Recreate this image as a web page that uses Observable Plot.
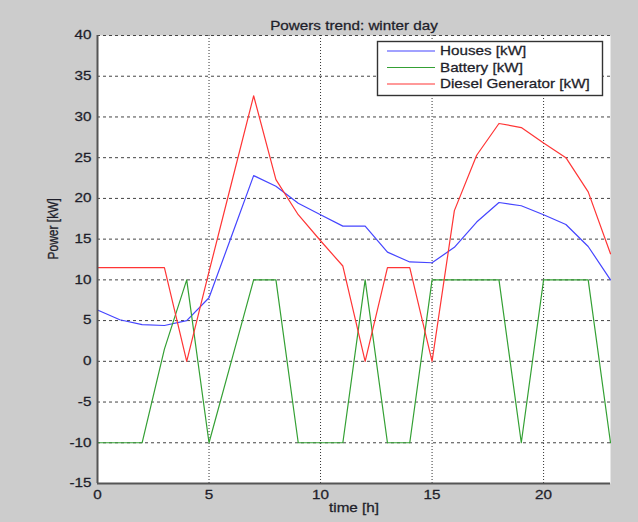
<!DOCTYPE html>
<html><head><meta charset="utf-8">
<script src="https://cdn.jsdelivr.net/npm/d3@7"></script>
<script src="https://cdn.jsdelivr.net/npm/@observablehq/plot@0.6"></script>
<style>
html,body{margin:0;padding:0;background:#cccccc;}
#chart{position:relative;width:638px;height:522px;}
</style></head><body><div id="chart"></div>
<script>
const hours = [0,1,2,3,4,5,6,7,8,9,10,11,12,13,14,15,16,17,18,19,20,21,22,23];
const houses = [6.3,5.1,4.5,4.4,5.0,7.8,15.3,22.8,21.5,19.4,18.0,16.6,16.6,13.4,12.2,12.1,14.0,17.1,19.5,19.1,18.0,16.8,14.1,10.0];
const battery = [-10,-10,-10,1.5,10,-10,0,10,10,-10,-10,-10,10,-10,-10,10,10,10,10,-10,10,10,10,-10];
const diesel = [11.5,11.5,11.5,11.5,0,11.0,21.8,32.6,22.3,18.0,14.8,11.7,0,11.5,11.5,0,18.5,25.3,29.2,28.7,26.8,25.0,20.8,13.2];
const seriesNames = ["Houses [kW]","Battery [kW]","Diesel Generator [kW]"];
const seriesColors = ["#4545ff","#34a034","#ff3535"];
const xTicks = [0,5,10,15,20];
const yTicks = [-15,-10,-5,0,5,10,15,20,25,30,35,40];
const title = "Powers trend: winter day";
const xLabel = "time [h]";
const yLabel = "Power [kW]";

const rows = [];
[houses, battery, diesel].forEach((vals, s) =>
  hours.forEach((h, i) => rows.push({series: seriesNames[s], time: h, power: vals[i]})));

const chart = Plot.plot({
  width: 638, height: 522,
  marginLeft: 97, marginRight: 28, marginTop: 35, marginBottom: 39,
  style: {background: "#cccccc", fontFamily: "'Liberation Sans', Arial, sans-serif", fontSize: "12px", color: "#1e1e2a", overflow: "visible"},
  x: {domain: [0, 23]},
  y: {domain: [-15, 40]},
  color: {domain: seriesNames, range: seriesColors},
  marks: [
    Plot.frame({fill: "white", stroke: null}),
    Plot.ruleY(yTicks.filter(v => v > -15), {stroke: "#444", strokeWidth: 1, strokeDasharray: "3,3"}),
    Plot.ruleX(xTicks.filter(v => v > 0), {stroke: "#333", strokeWidth: 1, strokeDasharray: "1,2"}),
    Plot.line(rows, {x: "time", y: "power", z: "series", stroke: "series", strokeWidth: 1.2}),
    Plot.ruleX([0], {stroke: "#555", strokeWidth: 2}),
    Plot.ruleY([-15], {stroke: "#555", strokeWidth: 2}),
    Plot.axisX({ticks: xTicks, tickSize: 0, tickPadding: 7, label: null, tickFormat: d => String(d)}),
    Plot.axisY({ticks: yTicks, tickSize: 0, tickPadding: 6, label: null, tickFormat: d => String(d)}),
    Plot.text([title], {text: d => d, frameAnchor: "top", dy: -14}),
    Plot.text([xLabel], {text: d => d, frameAnchor: "bottom", dy: 28}),
    Plot.text([yLabel], {text: d => d, frameAnchor: "left", dx: -44, rotate: -90})
  ]
});

// legend
const svg = d3.select(chart);
const lg = svg.append("g").attr("font-family", "'Liberation Sans', Arial, sans-serif").attr("font-size", 12).attr("fill", "#1e1e2a");
lg.append("rect").attr("x", 377.5).attr("y", 41.5).attr("width", 225).attr("height", 54)
  .attr("fill", "white").attr("stroke", "#333").attr("stroke-width", 1.4);
seriesNames.forEach((n, i) => {
  const y = 51 + i * 16.5;
  lg.append("line").attr("x1", 387).attr("x2", 435).attr("y1", y).attr("y2", y)
    .attr("stroke", seriesColors[i]).attr("stroke-width", 1.2);
  lg.append("text").attr("x", 440).attr("y", y).attr("dy", "0.35em").attr("text-anchor", "start").text(n);
});

document.getElementById("chart").append(chart);

const SX = 1.27;
chart.querySelectorAll("text").forEach(t => {
  t.setAttribute("stroke", "#1e1e2a");
  t.setAttribute("stroke-width", "0.25");
  const tr = t.getAttribute("transform") || "";
  const b = t.getBBox();
  if (/rotate/.test(tr)) {
    const ay = b.y + b.height / 2;
    t.setAttribute("transform", `${tr} translate(0,${ay}) scale(1,${SX}) translate(0,${-ay})`);
    return;
  }
  const anchor = getComputedStyle(t).textAnchor;
  const ax = anchor === "end" ? b.x + b.width : anchor === "middle" ? b.x + b.width / 2 : b.x;
  t.setAttribute("transform", `${tr} translate(${ax},0) scale(${SX},1) translate(${-ax},0)`);
});
</script></body></html>
